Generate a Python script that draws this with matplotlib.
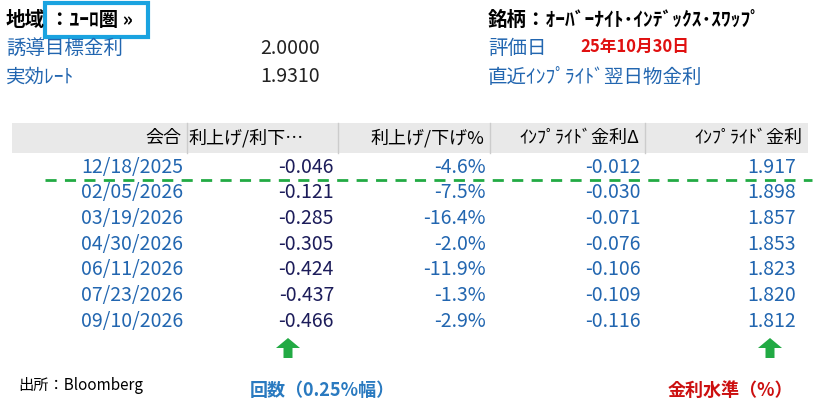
import matplotlib.pyplot as plt
from matplotlib.patches import Rectangle, FancyArrow

plt.rcParams['font.family'] = ['Noto Sans CJK JP', 'DejaVu Sans']

W, H = 828, 419
dates = ['12/18/2025', '02/05/2026', '03/19/2026', '04/30/2026', '06/11/2026', '07/23/2026', '09/10/2026']
hikes = [-0.046, -0.121, -0.285, -0.305, -0.424, -0.437, -0.466]
hike_pct = [-4.6, -7.5, -16.4, -2.0, -11.9, -1.3, -2.9]
rate_delta = [-0.012, -0.030, -0.071, -0.076, -0.106, -0.109, -0.116]
implied = [1.917, 1.898, 1.857, 1.853, 1.823, 1.820, 1.812]
headers = ['会合', '利上げ/利下…', '利上げ/下げ%', 'ｲﾝﾌﾟﾗｲﾄﾞ金利Δ', 'ｲﾝﾌﾟﾗｲﾄﾞ金利']

BLUE = '#2266b0'
NAVY = '#1c1c5a'

fig = plt.figure(figsize=(W / 100, H / 100), dpi=100)
ax = fig.add_axes([0, 0, 1, 1])
ax.set_xlim(0, W)
ax.set_ylim(H, 0)
ax.axis('off')

# top info block
ax.text(6, 20, '地域', fontsize=14, va='center', color='black', fontweight='bold')
ax.add_patch(Rectangle((45, 3), 103, 34, fill=False, ec='#1aa3e0', lw=3))
ax.text(50, 20, '：ﾕｰﾛ圏 »', fontsize=14, va='center', color='black', fontweight='bold')
ax.text(6, 48, '誘導目標金利', fontsize=14, va='center', color=BLUE)
ax.text(6, 77, '実効ﾚｰﾄ', fontsize=14, va='center', color=BLUE)
ax.text(320, 48, '2.0000', fontsize=14, va='center', ha='right', color='#222222')
ax.text(320, 77, '1.9310', fontsize=14, va='center', ha='right', color='#222222')
ax.text(488, 20, '銘柄：ｵｰﾊﾞｰﾅｲﾄ･ｲﾝﾃﾞｯｸｽ･ｽﾜｯﾌﾟ', fontsize=14, va='center', color='black', fontweight='bold')
ax.text(488, 48, '評価日', fontsize=14, va='center', color=BLUE)
ax.text(580, 47, '25年10月30日', fontsize=12, va='center', color='#e01010', fontweight='bold')
ax.text(488, 77, '直近ｲﾝﾌﾟﾗｲﾄﾞ翌日物金利', fontsize=14, va='center', color=BLUE)

# table header
col_edges = [12, 187, 338, 490, 645, 808]
ax.add_patch(Rectangle((12, 123), 796, 30, color='#e9e9e9', lw=0))
for x in col_edges[1:-1]:
    ax.plot([x, x], [123, 153], color='#cccccc', lw=1)
for i, h in enumerate(headers):
    if i == 1:
        ax.text(col_edges[1] + 2, 138, h, fontsize=13, va='center', ha='left')
    else:
        ax.text(col_edges[i + 1] - 6, 138, h, fontsize=13, va='center', ha='right')

# rows
row_y0, row_h = 167, 25.7
for r in range(len(dates)):
    y = row_y0 + r * row_h
    ax.text(col_edges[1] - 4, y, dates[r], fontsize=14, va='center', ha='right', color=BLUE)
    ax.text(col_edges[2] - 4, y, f'{hikes[r]:.3f}', fontsize=14, va='center', ha='right', color=NAVY)
    ax.text(col_edges[3] - 4, y, f'{hike_pct[r]:.1f}%', fontsize=14, va='center', ha='right', color=BLUE)
    ax.text(col_edges[4] - 4, y, f'{rate_delta[r]:.3f}', fontsize=14, va='center', ha='right', color=BLUE)
    ax.text(col_edges[5] - 12, y, f'{implied[r]:.3f}', fontsize=14, va='center', ha='right', color=BLUE)

ax.plot([45, 812], [180, 180], color='#22aa44', lw=2, ls=(0, (4, 3)))

# arrows and notes
for x in (288, 770):
    ax.add_patch(FancyArrow(x, 358, 0, -20, width=9, head_width=24, head_length=10,
                            length_includes_head=True, color='#22aa44', lw=0))
ax.text(18, 385, '出所：Bloomberg', fontsize=11, va='center', color='black')
ax.text(250, 390, '回数（0.25%幅）', fontsize=13, va='center', color='#2a7ac0', fontweight='bold')
ax.text(668, 390, '金利水準（%）', fontsize=13, va='center', color='#cc1010', fontweight='bold')

fig.savefig('out.png', dpi=100)
